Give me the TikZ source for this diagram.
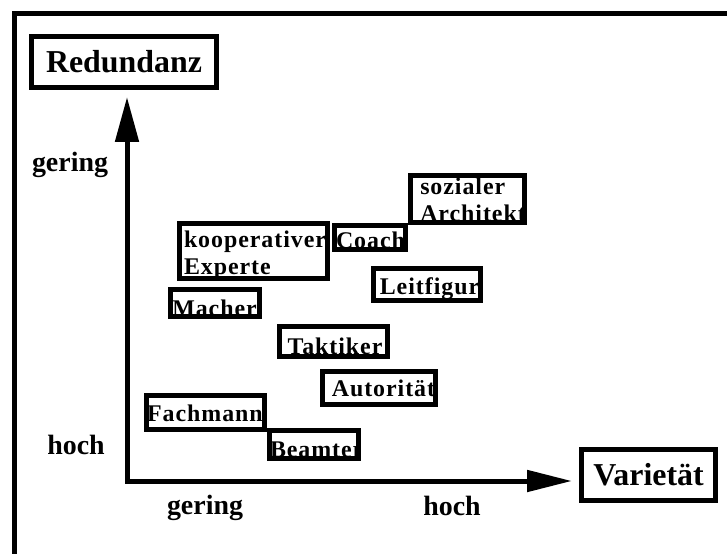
\documentclass[tikz,border=0pt]{standalone}
\usepackage{fontspec}
\setmainfont{Liberation Serif}
\usetikzlibrary{arrows.meta}

\newcommand{\boxfont}{\fontsize{24}{27}\selectfont\bfseries\addfontfeature{LetterSpace=4}}
\newcommand{\zweizeilig}[2]{\vtop{\baselineskip=27bp\hbox{#1}\hbox{#2}}}
\newcommand{\rollenbox}[8]{%
  \node[rolle, minimum width={(#4-#2-5)*1bp}, minimum height={(#5-#3-5)*1bp},
    path picture={\node[zeile] at ([shift={(#6-#2-7,#7-#5+2)}]path picture bounding box.south west) {#8};}]
    (#1) at ({(#2+#4)/2},{(#3+#5)/2}) {};}

\tikzset{
  rolle/.style={draw, line width=5bp, fill=white, inner sep=0pt},
  zeile/.style={anchor=base west, inner sep=0pt, font=\boxfont},
  achsbox/.style={draw, line width=5bp, fill=white, inner sep=0pt, font=\fontsize{32}{36}\selectfont\bfseries},
  skala/.style={anchor=base, inner sep=0pt, font=\fontsize{28}{30}\selectfont\bfseries},
  achse/.style={line width=5bp, miter limit=10, {Triangle[length=45bp,width=23bp]}-{Triangle[length=45bp,width=21bp]}}
}

\begin{document}
\begin{tikzpicture}[x=1bp,y=-1bp]
\useasboundingbox (0,0) rectangle (727,554);
\draw[line width=5bp] (14,554) -- (14,14) -- (727,14);

\node[achsbox, minimum width=185bp, minimum height=51bp] (redundanz) at (124,62) {Redundanz};
\node[achsbox, minimum width=134bp, minimum height=51bp] (varietaet) at (648.5,475) {Variet\"at};

\coordinate (yspitze) at (127,97);
\coordinate (ursprung) at (127,481);
\coordinate (xspitze) at (572,481);
\draw[achse] (yspitze) -- (ursprung) -- (xspitze);

\node[skala] (ygering) at (70,172) {gering};
\node[skala] (yhoch) at (76,454) {hoch};
\node[skala] (xgering) at (205,514) {gering};
\node[skala] (xhoch) at (452,515) {hoch};

\rollenbox{kooperativ}{177}{221}{330}{281}{183}{248}{\zweizeilig{kooperativer}{Experte}}
\rollenbox{coach}{332}{223}{408}{252}{337}{249}{Coach}
\rollenbox{sozial}{408}{173}{527}{225}{418}{195}{\zweizeilig{sozialer}{Architekt}}
\rollenbox{leitfigur}{371}{266}{483}{303}{378}{295}{Leitfigur}
\rollenbox{macher}{168}{287}{262}{319}{172}{317}{Macher}
\rollenbox{taktiker}{277}{324}{390}{359}{283}{355}{Taktiker}
\rollenbox{autoritaet}{320}{369}{438}{407}{329}{397}{Autorit\"at}
\rollenbox{fachmann}{144}{393}{267}{432}{148}{422}{Fachmann}
\rollenbox{beamter}{267}{428}{361}{461}{272}{458}{Beamter}
\end{tikzpicture}
\end{document}
